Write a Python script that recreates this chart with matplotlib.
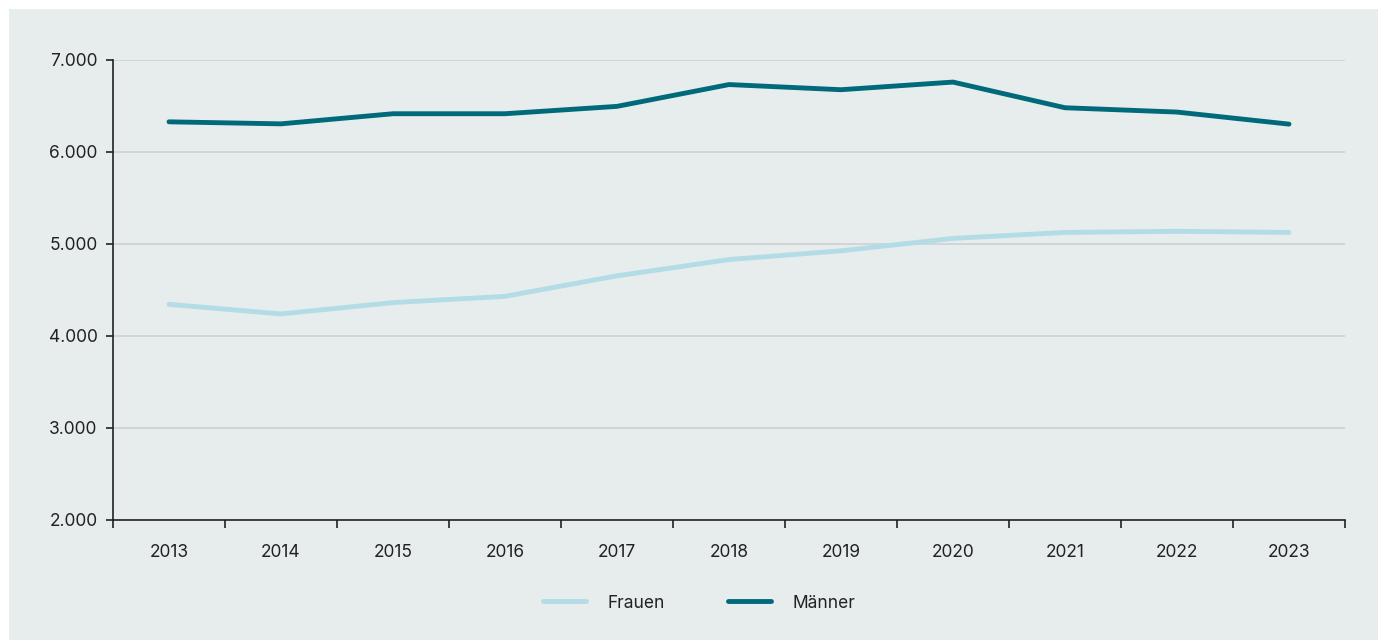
import matplotlib.pyplot as plt
from matplotlib.patches import Rectangle
from matplotlib.ticker import FuncFormatter

plt.rcParams['font.family'] = ['Inter', 'DejaVu Sans']

years = ['2013', '2014', '2015', '2016', '2017', '2018', '2019', '2020', '2021', '2022', '2023']
frauen = [4344, 4240, 4363, 4431, 4654, 4831, 4926, 5061, 5126, 5138, 5126]
maenner = [6328, 6306, 6416, 6416, 6496, 6733, 6677, 6760, 6481, 6434, 6303]

bg = '#e7eded'
fig = plt.figure(figsize=(13.78, 6.42), dpi=100, facecolor='white')
# light panel behind the chart
fig.patches.append(Rectangle((9 / 1378, 0.003), 1, 1 - 9 / 642 - 0.003,
                             transform=fig.transFigure, facecolor=bg,
                             edgecolor='none', zorder=-1))

ax = fig.add_axes([113 / 1378, 1 - 520 / 642, 1232 / 1378, 460 / 642])
ax.set_facecolor(bg)

x = list(range(len(years)))
ax.plot(x, frauen, color='#b3dce7', lw=3.5, solid_capstyle='round', label='Frauen')
ax.plot(x, maenner, color='#006a7a', lw=3.5, solid_capstyle='round', label='Männer')

ax.set_xlim(-0.5, len(years) - 0.5)
ax.set_ylim(2000, 7000)
ax.set_yticks(range(2000, 7001, 1000))
ax.yaxis.set_major_formatter(FuncFormatter(lambda v, p: f'{int(v):,}'.replace(',', '.')))
ax.grid(axis='y', color='#cfd3d4', lw=1.3)
ax.set_axisbelow(True)

# year labels centred, tick marks between categories
ax.set_xticks([i - 0.5 for i in range(len(years) + 1)])
ax.set_xticklabels([])
ax.set_xticks(x, minor=True)
ax.set_xticklabels(years, minor=True)
ax.tick_params(axis='x', which='major', length=6, width=1.2, color='#222222')
ax.tick_params(axis='x', which='minor', length=0, pad=17, labelsize=12.5, labelcolor='#222222')
ax.tick_params(axis='y', length=5, width=1.2, color='#222222', pad=6, labelsize=12.5, labelcolor='#222222')

for s in ['top', 'right']:
    ax.spines[s].set_visible(False)
for s in ['left', 'bottom']:
    ax.spines[s].set_color('#222222')
    ax.spines[s].set_linewidth(1.2)

leg = fig.legend(loc='center', bbox_to_anchor=(699 / 1378, 1 - 603 / 642), ncol=2,
                 frameon=False, fontsize=12.5, handlelength=2.5, handletextpad=1.25,
                 columnspacing=3.6)
for t in leg.get_texts():
    t.set_color('#222222')

fig.savefig('out.png', dpi=100, facecolor='white')
